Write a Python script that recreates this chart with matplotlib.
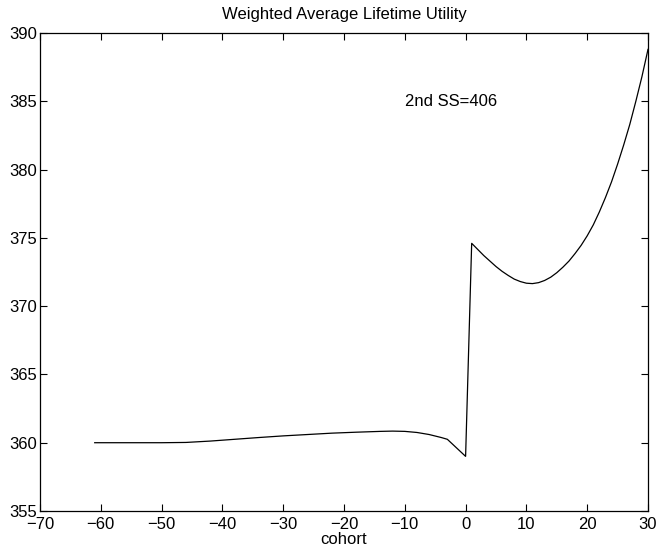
import matplotlib
matplotlib.use("Agg")
import matplotlib.pyplot as plt

# cohort -> weighted average lifetime utility
cohort = [-61, -55, -50, -46, -42, -38, -34, -30, -26, -22, -18, -14, -12, -10,
          -8, -6, -4, -3, 0, 1, 2, 3, 4, 5, 6, 7, 8, 9, 10, 11, 12, 13, 14, 15,
          16, 17, 18, 19, 20, 21, 22, 23, 24, 25, 26, 27, 28, 29, 30]
utility = [360.0, 360.0, 360.0, 360.02, 360.12, 360.25, 360.38, 360.5, 360.6,
           360.7, 360.77, 360.83, 360.85, 360.83, 360.75, 360.6, 360.38, 360.25,
           359.0, 374.6, 374.15, 373.7, 373.3, 372.9, 372.55, 372.25, 371.98,
           371.8, 371.68, 371.65, 371.72, 371.88, 372.12, 372.45, 372.85, 373.3,
           373.85, 374.45, 375.15, 375.95, 376.9, 377.95, 379.1, 380.4, 381.8,
           383.3, 385.0, 386.8, 388.8]
x_ticks = list(range(-70, 31, 10))
y_ticks = list(range(355, 391, 5))
note = "2nd SS=406"

plt.rcParams["font.family"] = ["Liberation Sans", "DejaVu Sans"]
fig = plt.figure(figsize=(6.59, 5.5), dpi=100)
ax = fig.add_axes([40 / 659, 39 / 550, 608 / 659, 478 / 550])

ax.plot(cohort, utility, color="black", lw=0.9)
ax.text(-10, 385, note, fontsize=12, va="center", ha="left")

ax.set_xlim(-70, 30)
ax.set_ylim(355, 390)
ax.set_xticks(x_ticks)
ax.set_yticks(y_ticks)
ax.tick_params(direction="in", top=True, right=True, length=5, width=0.8,
               labelsize=12)
ax.tick_params(axis="x", pad=4)
ax.tick_params(axis="y", pad=2)
for s in ax.spines.values():
    s.set_linewidth(0.9)
ax.set_xlabel("cohort", fontsize=12, labelpad=0)
ax.set_title("Weighted Average Lifetime Utility", fontsize=12, pad=10)

fig.savefig("out.png", dpi=100)
